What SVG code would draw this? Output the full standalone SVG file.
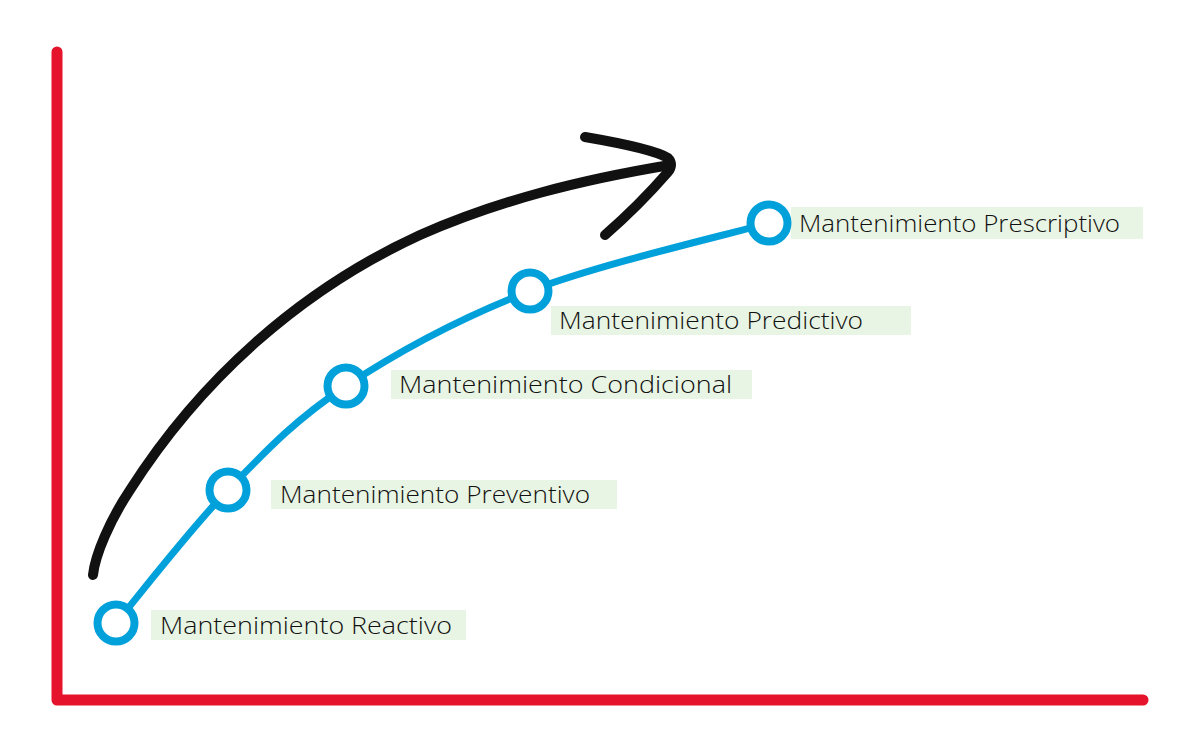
<svg xmlns="http://www.w3.org/2000/svg" width="1200" height="748" viewBox="0 0 1200 748">
<style>
.axis{fill:none;stroke:#E5132B;stroke-width:11;stroke-linecap:round;stroke-linejoin:round}
.curve{fill:none;stroke:#00A0DB;stroke-width:7;stroke-linecap:round}
.arrow{fill:none;stroke:#111;stroke-width:10;stroke-linecap:round;stroke-linejoin:round}
.dot{fill:#fff;stroke:#00A0DB;stroke-width:8}
.box{fill:#E9F5E4}
.lbl{font-family:"Open Sans","Lato",sans-serif;font-weight:300;font-size:23px;fill:#111}
</style>
<rect width="1200" height="748" fill="#fff"/>
<g id="axes">
<path class="axis" d="M57,52 L57,700 L1143,700"/>
</g>
<g id="connectors">
<path class="arrow" d="M93,575 C95,555 110,520 130,490 C200,380 300,290 420,235 C500,200 580,180 670,165"/>
<path class="arrow" d="M585,137 C620,143 655,150 668,158 C672,162 672,167 668,172 C648,195 628,215 605,235"/>
<path class="curve" d="M116,623 C134.7,600.8 189.7,529.5 228,490 C266.3,450.5 295.7,419.2 346,386 C396.3,352.8 459.5,318.2 530,291 C600.5,263.8 729.2,234.3 769,223"/>
</g>
<g id="node-reactivo">
<rect class="box" x="151" y="610" width="315" height="30"/>
<circle class="dot" cx="116" cy="623" r="18.5"/>
<text class="lbl" x="160" y="634" textLength="292" lengthAdjust="spacingAndGlyphs">Mantenimiento Reactivo</text>
</g>
<g id="node-preventivo">
<rect class="box" x="271" y="480" width="346" height="29"/>
<circle class="dot" cx="228" cy="490" r="18.5"/>
<text class="lbl" x="280" y="503" textLength="310" lengthAdjust="spacingAndGlyphs">Mantenimiento Preventivo</text>
</g>
<g id="node-condicional">
<rect class="box" x="391" y="370" width="361" height="29"/>
<circle class="dot" cx="346" cy="386" r="18.5"/>
<text class="lbl" x="399" y="393" textLength="333" lengthAdjust="spacingAndGlyphs">Mantenimiento Condicional</text>
</g>
<g id="node-predictivo">
<rect class="box" x="551" y="306" width="360" height="29"/>
<circle class="dot" cx="530" cy="291" r="18.5"/>
<text class="lbl" x="559" y="329" textLength="304" lengthAdjust="spacingAndGlyphs">Mantenimiento Predictivo</text>
</g>
<g id="node-prescriptivo">
<rect class="box" x="791" y="207" width="352" height="32"/>
<circle class="dot" cx="769" cy="223" r="18.5"/>
<text class="lbl" x="799" y="232" textLength="321" lengthAdjust="spacingAndGlyphs">Mantenimiento Prescriptivo</text>
</g>
</svg>
